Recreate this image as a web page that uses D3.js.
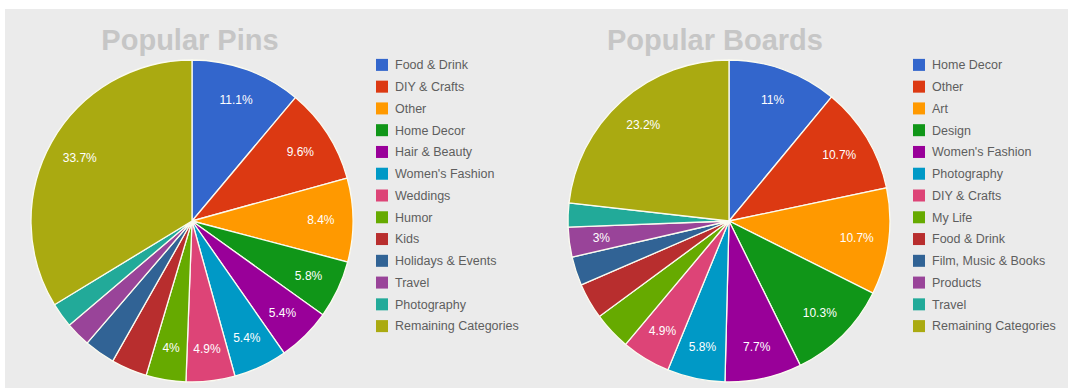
<!DOCTYPE html>
<html>
<head>
<meta charset="utf-8">
<script src="https://cdn.jsdelivr.net/npm/d3@7"></script>
<style>
  html, body { margin: 0; padding: 0; background: #ffffff; }
  svg { display: block; }
</style>
</head>
<body>
<svg id="chart" width="1068" height="392"></svg>
<script>
// Category shares (percent) for each pie
const pinCategories = ["Food & Drink", "DIY & Crafts", "Other", "Home Decor", "Hair & Beauty",
  "Women's Fashion", "Weddings", "Humor", "Kids", "Holidays & Events", "Travel",
  "Photography", "Remaining Categories"];
const pinValues = [11.1, 9.6, 8.4, 5.8, 5.4, 5.4, 4.9, 4, 3.6, 3.1, 2.5, 2.5, 33.7];

const boardCategories = ["Home Decor", "Other", "Art", "Design", "Women's Fashion",
  "Photography", "DIY & Crafts", "My Life", "Food & Drink", "Film, Music & Books",
  "Products", "Travel", "Remaining Categories"];
const boardValues = [11, 10.7, 10.7, 10.3, 7.7, 5.8, 4.9, 3.8, 3.6, 2.9, 3, 2.4, 23.2];

// Slices shown without a text label (too narrow for their text)
const pinHidden = [false, false, false, false, false, false, false, false, true, true, true, true, false];
const boardHidden = [false, false, false, false, false, false, false, true, true, true, false, true, false];

const palette = ["#3366cc", "#dc3912", "#ff9900", "#109618", "#990099", "#0099c6",
  "#dd4477", "#66aa00", "#b82e2e", "#316395", "#994499", "#22aa99", "#aaaa11"];

const svg = d3.select("#chart");

// Panel background
svg.append("rect").attr("x", 5).attr("y", 9).attr("width", 1063).attr("height", 379)
  .attr("fill", "#ebebeb");

function drawPie(cfg) {
  const g = svg.append("g");
  const color = d3.scaleOrdinal().domain(cfg.categories).range(palette);
  const data = cfg.categories.map((c, i) => ({ name: c, value: cfg.values[i], hidden: cfg.hidden[i] }));

  const pie = d3.pie().value(d => d.value).sort(null);
  const arc = d3.arc().innerRadius(0).outerRadius(cfg.r);
  const labelArc = d3.arc().innerRadius(cfg.r * 0.8).outerRadius(cfg.r * 0.8);
  const arcs = pie(data);

  g.append("text")
    .attr("x", cfg.tx).attr("y", 50)
    .attr("text-anchor", "middle")
    .attr("font-family", "Arial, 'Liberation Sans', sans-serif")
    .attr("font-weight", "bold")
    .attr("font-size", 29)
    .attr("fill", "#c6c6c6")
    .text(cfg.title);

  const pg = g.append("g").attr("transform", `translate(${cfg.cx},${cfg.cy})`);
  pg.selectAll("path").data(arcs).join("path")
    .attr("d", arc)
    .attr("fill", d => color(d.data.name))
    .attr("stroke", "#fbfbf0")
    .attr("stroke-width", 1.3);

  pg.selectAll("text").data(arcs.filter(d => !d.data.hidden)).join("text")
    .attr("transform", d => `translate(${labelArc.centroid(d)})`)
    .attr("text-anchor", "middle")
    .attr("dy", "0.35em")
    .attr("font-family", "Arial, 'Liberation Sans', sans-serif")
    .attr("font-size", 12)
    .attr("fill", "#ffffff")
    .text(d => d.data.value + "%");

  const rowY = d3.scaleBand().domain(cfg.categories).range([54, 337]);
  const lg = g.append("g");
  const rows = lg.selectAll("g").data(cfg.categories).join("g")
    .attr("transform", d => `translate(${cfg.lx},${rowY(d) + rowY.bandwidth() / 2})`);
  rows.append("rect")
    .attr("x", 0).attr("y", -6).attr("width", 12).attr("height", 12)
    .attr("fill", d => color(d));
  rows.append("text")
    .attr("x", 19).attr("dy", "0.35em")
    .attr("font-family", "Arial, 'Liberation Sans', sans-serif")
    .attr("font-size", 12.5)
    .attr("fill", "#5e5e5e")
    .text(d => d);
}

drawPie({ title: "Popular Pins", categories: pinCategories, values: pinValues, hidden: pinHidden,
  cx: 192, cy: 221, r: 161, lx: 376, tx: 190 });
drawPie({ title: "Popular Boards", categories: boardCategories, values: boardValues, hidden: boardHidden,
  cx: 729, cy: 221, r: 161, lx: 913, tx: 715 });
</script>
</body>
</html>
